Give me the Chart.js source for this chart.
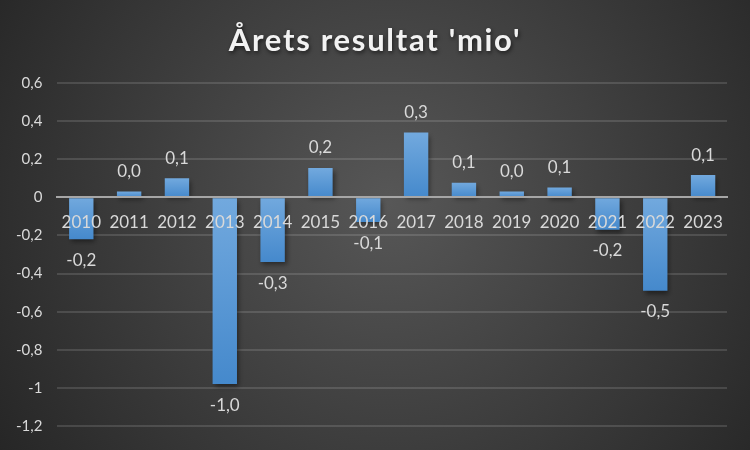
<!DOCTYPE html>
<html lang="da">
<head>
  <meta charset="UTF-8">
  <title>Årets resultat 'mio'</title>
  <script src="https://cdn.jsdelivr.net/npm/chart.js"></script>
  <style>
    html, body { margin: 0; padding: 0; background: #333; }
    #wrap { width: 750px; height: 450px; }
  </style>
</head>
<body>
  <div id="wrap"><canvas id="myChart"></canvas></div>
  <script>
    const chartTitle = "Årets resultat 'mio'";
    const years = ['2010', '2011', '2012', '2013', '2014', '2015', '2016',
                   '2017', '2018', '2019', '2020', '2021', '2022', '2023'];
    const resultat = [-0.22, 0.03, 0.10, -0.98, -0.34, 0.154, -0.13,
                      0.34, 0.077, 0.03, 0.052, -0.17, -0.49, 0.117];
    const yMin = -1.2, yMax = 0.6, yStep = 0.2;

    function komma(v, dec) {
      return v.toFixed(dec).replace('.', ',');
    }

    // dark radial background + title with shadow
    const bgPlugin = {
      id: 'bg',
      beforeDraw(chart) {
        const c = chart.ctx, w = chart.width, h = chart.height;
        const g = c.createRadialGradient(w * 0.52, h * 0.45, 0, w * 0.52, h * 0.45, w * 0.62);
        g.addColorStop(0, '#575757');
        g.addColorStop(1, '#262626');
        c.save();
        c.fillStyle = g;
        c.fillRect(0, 0, w, h);
        c.font = 'bold 31px Lato';
        c.letterSpacing = '1.7px';
        c.fillStyle = '#f2f2f2';
        c.textAlign = 'center';
        c.textBaseline = 'middle';
        c.shadowColor = 'rgba(0,0,0,0.6)';
        c.shadowBlur = 4;
        c.shadowOffsetX = 1;
        c.shadowOffsetY = 2;
        c.fillText(chartTitle, w / 2, 41);
        c.restore();
      }
    };

    const shadowPlugin = {
      id: 'barShadow',
      beforeDatasetsDraw(chart) {
        const c = chart.ctx;
        c.save();
        c.shadowColor = 'rgba(0,0,0,0.45)';
        c.shadowBlur = 5;
        c.shadowOffsetX = 2;
        c.shadowOffsetY = 3;
      },
      afterDatasetsDraw(chart) {
        chart.ctx.restore();
      }
    };

    const labelPlugin = {
      id: 'valueLabels',
      afterDraw(chart) {
        const c = chart.ctx;
        const meta = chart.getDatasetMeta(0);
        c.save();
        c.font = '17px Lato';
        c.fillStyle = '#d9d9d9';
        c.textAlign = 'center';
        c.textBaseline = 'middle';
        meta.data.forEach(function(bar, i) {
          const v = resultat[i];
          const y = v >= 0 ? bar.y - 20 : bar.y + 21;
          c.fillText(komma(v, 1), bar.x, y);
        });
        c.restore();
      }
    };

    function barFill(context) {
      const chart = context.chart;
      const area = chart.chartArea;
      if (!area) return '#5b9bd5';
      const v = resultat[context.dataIndex];
      const ys = chart.scales.y;
      const y0 = ys.getPixelForValue(Math.max(v, 0));
      const y1 = ys.getPixelForValue(Math.min(v, 0));
      const g = chart.ctx.createLinearGradient(0, y0, 0, y1 + 0.01);
      g.addColorStop(0, '#72a9de');
      g.addColorStop(1, '#4589cc');
      return g;
    }

    const ctx = document.getElementById('myChart').getContext('2d');
    const myChart = new Chart(ctx, {
      type: 'bar',
      data: {
        labels: years,
        datasets: [{
          label: 'Resultat',
          data: resultat,
          backgroundColor: barFill,
          borderWidth: 0,
          barPercentage: 0.51,
          categoryPercentage: 1
        }]
      },
      plugins: [bgPlugin, shadowPlugin, labelPlugin],
      options: {
        responsive: true,
        maintainAspectRatio: false,
        animation: false,
        layout: { padding: { left: 1, right: 23, bottom: 14, top: 83 } },
        plugins: {
          legend: { display: false },
          tooltip: { enabled: false },
          title: { display: false }
        },
        scales: {
          x: {
            position: { y: 0 },
            grid: { display: false, drawTicks: false },
            border: { display: true, color: '#a6a6a6', width: 2, z: 1 },
            ticks: {
              z: 2,
              color: '#d9d9d9',
              font: { family: 'Lato', size: 17 },
              padding: 15,
              maxRotation: 0
            }
          },
          y: {
            min: yMin,
            max: yMax,
            ticks: {
              stepSize: yStep,
              color: '#d9d9d9',
              font: { family: 'Lato', size: 15 },
              padding: 15,
              callback: function(v) {
                const r = Math.round(v * 10) / 10;
                if (r === 0) return '0';
                if (Number.isInteger(r)) return String(r);
                return komma(r, 1);
              }
            },
            grid: {
              color: 'rgba(255,255,255,0.13)',
              lineWidth: 2,
              drawTicks: false
            },
            border: { display: false }
          }
        }
      }
    });
  </script>
</body>
</html>
